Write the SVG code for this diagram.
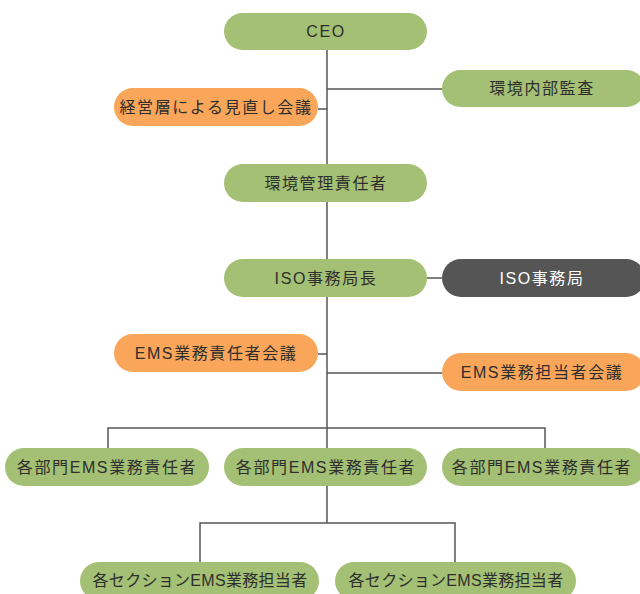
<svg xmlns="http://www.w3.org/2000/svg" width="640" height="594" viewBox="0 0 640 594">
<style>
.g{fill:#a3c074}
.o{fill:#f9a65a}
.d{fill:#555555}
text{font-family:"Liberation Sans","Noto Sans CJK JP",sans-serif;font-size:16px;letter-spacing:1.6px;fill:#2e2e2e;text-anchor:middle;dominant-baseline:central}
.w{fill:#ffffff}
.s{letter-spacing:0.3px}
.c line{stroke:#555555;stroke-width:1.5;fill:none}
</style>
<rect width="640" height="594" fill="#ffffff"/>
<g class="c" id="connectors">
<line x1="327" y1="50" x2="327" y2="523"/>
<line x1="327" y1="89" x2="442" y2="89"/>
<line x1="318" y1="109" x2="327" y2="109"/>
<line x1="427" y1="278" x2="442" y2="278"/>
<line x1="318" y1="354" x2="327" y2="354"/>
<line x1="327" y1="373" x2="442" y2="373"/>
<polyline points="108,448 108,428 545,428 545,448" style="stroke:#555555;stroke-width:1.5;fill:none"/>
<polyline points="200,562 200,523 455,523 455,562" style="stroke:#555555;stroke-width:1.5;fill:none"/>
</g>
<g id="ceo"><rect class="g" x="224" y="13" width="203" height="37" rx="18.5"/><text x="326" y="31">CEO</text></g>
<g id="audit"><rect class="g" x="442" y="70" width="203" height="37" rx="18.5"/><text x="542" y="88">環境内部監査</text></g>
<g id="review"><rect class="o" x="114" y="88" width="204" height="38" rx="19"/><text x="216" y="107">経営層による見直し会議</text></g>
<g id="envmgr"><rect class="g" x="224" y="164" width="203" height="38" rx="19"/><text x="326" y="183">環境管理責任者</text></g>
<g id="isochief"><rect class="g" x="224" y="259" width="203" height="38" rx="19"/><text x="326" y="278">ISO事務局長</text></g>
<g id="isooffice"><rect class="d" x="442" y="259" width="203" height="38" rx="19"/><text class="w" x="542" y="278">ISO事務局</text></g>
<g id="emsresp"><rect class="o" x="114" y="334" width="204" height="38" rx="19"/><text x="216" y="353">EMS業務責任者会議</text></g>
<g id="emsstaff"><rect class="o" x="442" y="353" width="203" height="38" rx="19"/><text x="542" y="372">EMS業務担当者会議</text></g>
<g id="dept1"><rect class="g" x="5" y="448" width="204" height="38" rx="19"/><text x="107" y="467">各部門EMS業務責任者</text></g>
<g id="dept2"><rect class="g" x="224" y="448" width="203" height="38" rx="19"/><text x="326" y="467">各部門EMS業務責任者</text></g>
<g id="dept3"><rect class="g" x="442" y="448" width="203" height="38" rx="19"/><text x="542" y="467">各部門EMS業務責任者</text></g>
<g id="sec1"><rect class="g" x="80" y="562" width="239" height="38" rx="19"/><text class="s" x="200" y="580">各セクションEMS業務担当者</text></g>
<g id="sec2"><rect class="g" x="335" y="562" width="241" height="38" rx="19"/><text class="s" x="456" y="580">各セクションEMS業務担当者</text></g>
</svg>
